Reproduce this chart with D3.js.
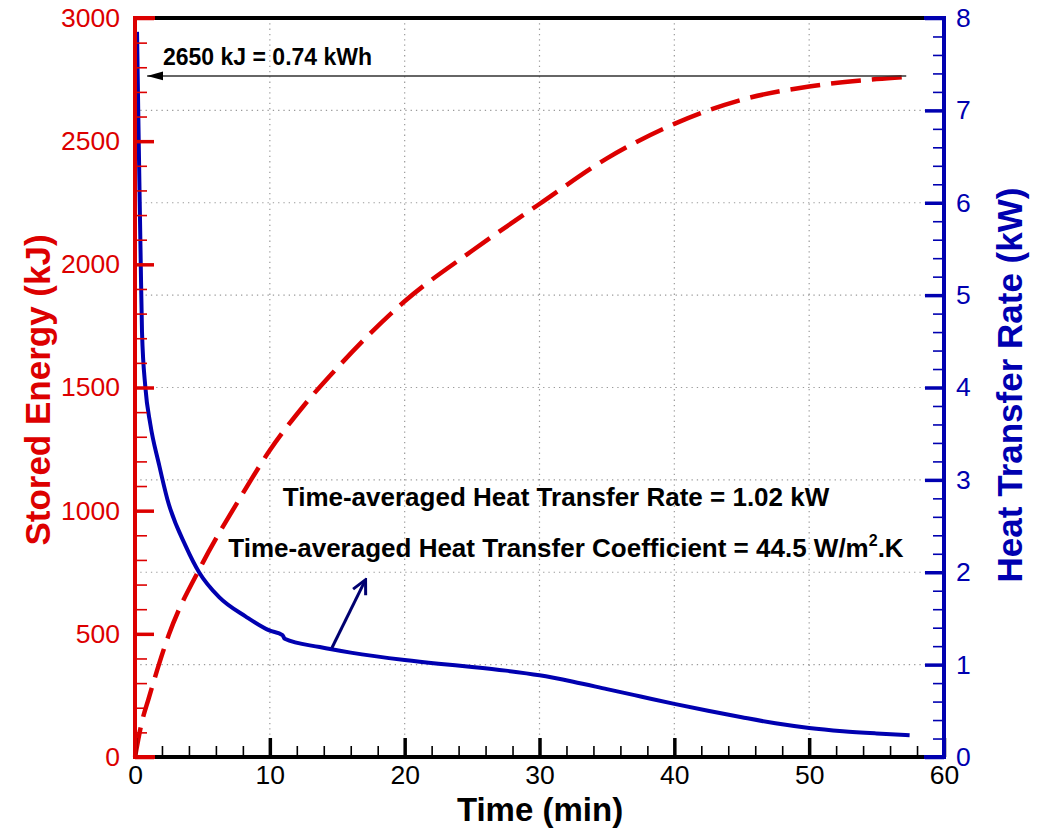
<!DOCTYPE html>
<html>
<head>
<meta charset="utf-8">
<script src="https://cdn.jsdelivr.net/npm/d3@7"></script>
<style>
  body { margin: 0; background: #fff; }
  text { font-family: Arial, "Liberation Sans", sans-serif; }
</style>
</head>
<body>
<div id="wrapper"></div>
<script>
// stored energy curve (red, dashed)
const timeEnergy = [0, 0.5, 1, 2.5, 5, 7.7, 10, 12.5, 15, 20, 25, 30, 35, 40, 45, 50, 55, 57.5];
const storedEnergy = [0, 140, 235, 495, 786, 1043, 1245, 1425, 1580, 1850, 2055, 2245, 2430, 2570, 2668, 2722, 2752, 2762];

// heat transfer rate curve (blue, solid)
const timeRate = [0.15, 0.25, 0.35, 0.42, 0.52, 0.77, 1.14, 1.76, 2.4, 3.77, 4.75, 6.24, 8.22, 9.96, 10.94, 11.1, 13.7, 16, 20, 22.5, 25, 27.5, 30, 32.5, 35, 37.5, 40, 42.5, 45, 47.5, 50, 52.5, 55, 57.45];
const heatRate = [7.85, 6.9, 6.0, 5.4, 4.6, 4.0, 3.6, 3.18, 2.79, 2.28, 2.0, 1.73, 1.52, 1.37, 1.32, 1.28, 1.19, 1.13, 1.05, 1.01, 0.975, 0.935, 0.885, 0.815, 0.735, 0.655, 0.575, 0.5, 0.43, 0.365, 0.315, 0.28, 0.255, 0.235];

// ticks
const xMajor = [0, 10, 20, 30, 40, 50, 60];
const xMinor = d3.range(0, 61, 2).filter((v) => v % 10 !== 0);
const yLeftMajor = [0, 500, 1000, 1500, 2000, 2500, 3000];
const yLeftMinor = d3.range(0, 3001, 100).filter((v) => v % 500 !== 0);
const yRightMajor = [0, 1, 2, 3, 4, 5, 6, 7, 8];
const yRightMinor = d3.range(0, 8.01, 0.2).map((v) => +v.toFixed(1)).filter((v) => v % 1 !== 0);
const xGrid = [10, 20, 30, 40, 50];
const yGrid = [1, 2, 3, 4, 5, 6, 7];

// annotations
const storedLabel = "2650 kJ = 0.74 kWh";
const rateLabel = "Time-averaged Heat Transfer Rate = 1.02 kW";
const coeffLabel = ["Time-averaged Heat Transfer Coefficient = 44.5 W/m", "2", ".K"];

const RED = "#dc0000";
const BLUE = "#0000b0";

//* Dimensions
const dimensions = { width: 1040, height: 828, left: 135, right: 944, top: 18, bottom: 757 };

const svg = d3
  .select("#wrapper")
  .append("svg")
  .attr("width", dimensions.width)
  .attr("height", dimensions.height);

//* Scales
const xScale = d3.scaleLinear().domain([0, 60]).range([dimensions.left, dimensions.right]);
const yLeft = d3.scaleLinear().domain([0, 3000]).range([dimensions.bottom, dimensions.top]);
const yRight = d3.scaleLinear().domain([0, 8]).range([dimensions.bottom, dimensions.top]);

//* Grid
const grid = svg.append("g").attr("stroke", "#9a9a9a").attr("stroke-width", 1.2).attr("stroke-dasharray", "1.3,4");
grid.selectAll(".gx").data(xGrid).join("line")
  .attr("x1", (d) => xScale(d)).attr("x2", (d) => xScale(d))
  .attr("y1", dimensions.top).attr("y2", dimensions.bottom);
grid.selectAll(".gy").data(yGrid).join("line")
  .attr("y1", (d) => yRight(d)).attr("y2", (d) => yRight(d))
  .attr("x1", dimensions.left).attr("x2", dimensions.right);

//* Data lines
const energyData = timeEnergy.map((t, i) => [t, storedEnergy[i]]);
const rateData = timeRate.map((t, i) => [t, heatRate[i]]);

svg.append("path")
  .datum(energyData)
  .attr("fill", "none")
  .attr("stroke", RED)
  .attr("stroke-width", 4.5)
  .attr("stroke-dasharray", "30,11")
  .attr("d", d3.line().x((d) => xScale(d[0])).y((d) => yLeft(d[1])).curve(d3.curveMonotoneX));

svg.append("path")
  .datum(rateData)
  .attr("fill", "none")
  .attr("stroke", BLUE)
  .attr("stroke-width", 4)
  .attr("d", d3.line().x((d) => xScale(d[0])).y((d) => yRight(d[1])).curve(d3.curveMonotoneX));

//* Axes
function styleAxis(g, color, major) {
  g.select(".domain").remove();
  g.selectAll(".tick line").attr("stroke", color).attr("stroke-width", major ? 3.5 : 1.6);
  g.selectAll(".tick text")
    .attr("fill", color)
    .style("font-family", "Arial, 'Liberation Sans', sans-serif")
    .style("font-size", "26.5px");
}

svg.append("g")
  .attr("transform", `translate(${dimensions.left},0)`)
  .call(d3.axisLeft(yLeft).tickValues(yLeftMinor).tickSize(-12).tickFormat(""))
  .call((g) => styleAxis(g, RED, false));
svg.append("g")
  .attr("transform", `translate(${dimensions.left},0)`)
  .call(d3.axisLeft(yLeft).tickValues(yLeftMajor).tickSize(-19).tickPadding(15).tickFormat(d3.format("d")))
  .call((g) => styleAxis(g, RED, true));

svg.append("g")
  .attr("transform", `translate(${dimensions.right},0)`)
  .call(d3.axisRight(yRight).tickValues(yRightMinor).tickSize(-11).tickFormat(""))
  .call((g) => styleAxis(g, BLUE, false));
svg.append("g")
  .attr("transform", `translate(${dimensions.right},0)`)
  .call(d3.axisRight(yRight).tickValues(yRightMajor).tickSize(-19).tickPadding(12).tickFormat(d3.format("d")))
  .call((g) => styleAxis(g, BLUE, true));

svg.append("g")
  .attr("transform", `translate(0,${dimensions.bottom})`)
  .call(d3.axisBottom(xScale).tickValues(xMinor).tickSize(-11).tickFormat(""))
  .call((g) => styleAxis(g, "#000", false));
svg.append("g")
  .attr("transform", `translate(0,${dimensions.bottom})`)
  .call(d3.axisBottom(xScale).tickValues(xMajor).tickSize(-19).tickPadding(8).tickFormat(d3.format("d")))
  .call((g) => styleAxis(g, "#000", true));

// frame lines
const frame = svg.append("g").attr("stroke-width", 4).attr("stroke-linecap", "square");
frame.append("line").attr("x1", dimensions.left).attr("x2", dimensions.right)
  .attr("y1", dimensions.top).attr("y2", dimensions.top).attr("stroke", "#000");
frame.append("line").attr("x1", dimensions.left).attr("x2", dimensions.right)
  .attr("y1", dimensions.bottom).attr("y2", dimensions.bottom).attr("stroke", "#000");
[dimensions.top, dimensions.bottom].forEach((y) => {
  frame.append("line").attr("x1", dimensions.left).attr("x2", dimensions.left + 18)
    .attr("y1", y).attr("y2", y).attr("stroke", RED);
  frame.append("line").attr("x1", dimensions.right - 18).attr("x2", dimensions.right)
    .attr("y1", y).attr("y2", y).attr("stroke", BLUE);
});
frame.append("line").attr("x1", dimensions.left).attr("x2", dimensions.left)
  .attr("y1", dimensions.top).attr("y2", dimensions.bottom).attr("stroke", RED);
frame.append("line").attr("x1", dimensions.right).attr("x2", dimensions.right)
  .attr("y1", dimensions.top).attr("y2", dimensions.bottom).attr("stroke", BLUE);

//* Axis titles
svg.append("text")
  .attr("transform", "translate(50,390) rotate(-90)")
  .attr("text-anchor", "middle")
  .attr("fill", RED)
  .style("font-size", "35px")
  .style("font-weight", "bold")
  .text("Stored Energy (kJ)");

svg.append("text")
  .attr("transform", "translate(1022,385) rotate(-90)")
  .attr("text-anchor", "middle")
  .attr("fill", BLUE)
  .style("font-size", "35px")
  .style("font-weight", "bold")
  .text("Heat Transfer Rate (kW)");

svg.append("text")
  .attr("x", 540)
  .attr("y", 821)
  .attr("text-anchor", "middle")
  .attr("fill", "#000")
  .style("font-size", "33px")
  .style("font-weight", "bold")
  .text("Time (min)");

//* Annotations
const defs = svg.append("defs");
defs.append("marker")
  .attr("id", "headFilled")
  .attr("markerUnits", "userSpaceOnUse")
  .attr("viewBox", "0 0 16 10")
  .attr("refX", 16).attr("refY", 5)
  .attr("markerWidth", 16).attr("markerHeight", 10)
  .attr("orient", "auto")
  .append("path").attr("d", "M0,0.5 L16,5 L0,9.5 Z").attr("fill", "#000");

defs.append("marker")
  .attr("id", "headOpen")
  .attr("markerUnits", "userSpaceOnUse")
  .attr("viewBox", "0 0 18 18")
  .attr("refX", 16).attr("refY", 9)
  .attr("markerWidth", 18).attr("markerHeight", 18)
  .attr("orient", "auto")
  .append("path").attr("d", "M2,2 L16,9 L2,16").attr("fill", "none")
  .attr("stroke", "#000070").attr("stroke-width", 3);

svg.append("line")
  .attr("x1", xScale(57.2)).attr("y1", yLeft(2765))
  .attr("x2", xScale(0.9)).attr("y2", yLeft(2765))
  .attr("stroke", "#333").attr("stroke-width", 1.5)
  .attr("marker-end", "url(#headFilled)");

svg.append("text")
  .attr("x", 163).attr("y", 65)
  .attr("fill", "#000")
  .style("font-size", "23px")
  .style("font-weight", "bold")
  .text(storedLabel);

svg.append("line")
  .attr("x1", xScale(14.6)).attr("y1", yRight(1.18))
  .attr("x2", xScale(17.1)).attr("y2", yRight(1.92))
  .attr("stroke", "#000070").attr("stroke-width", 3)
  .attr("marker-end", "url(#headOpen)");

svg.append("text")
  .attr("x", 556).attr("y", 506)
  .attr("text-anchor", "middle")
  .attr("fill", "#000")
  .style("font-size", "26px")
  .style("font-weight", "bold")
  .text(rateLabel);

const coeff = svg.append("text")
  .attr("x", 566).attr("y", 557)
  .attr("text-anchor", "middle")
  .attr("fill", "#000")
  .style("font-size", "26px")
  .style("font-weight", "bold");
coeff.append("tspan").text(coeffLabel[0]);
coeff.append("tspan").attr("dy", -11).style("font-size", "16px").text(coeffLabel[1]);
coeff.append("tspan").attr("dy", 11).text(coeffLabel[2]);
</script>
</body>
</html>
